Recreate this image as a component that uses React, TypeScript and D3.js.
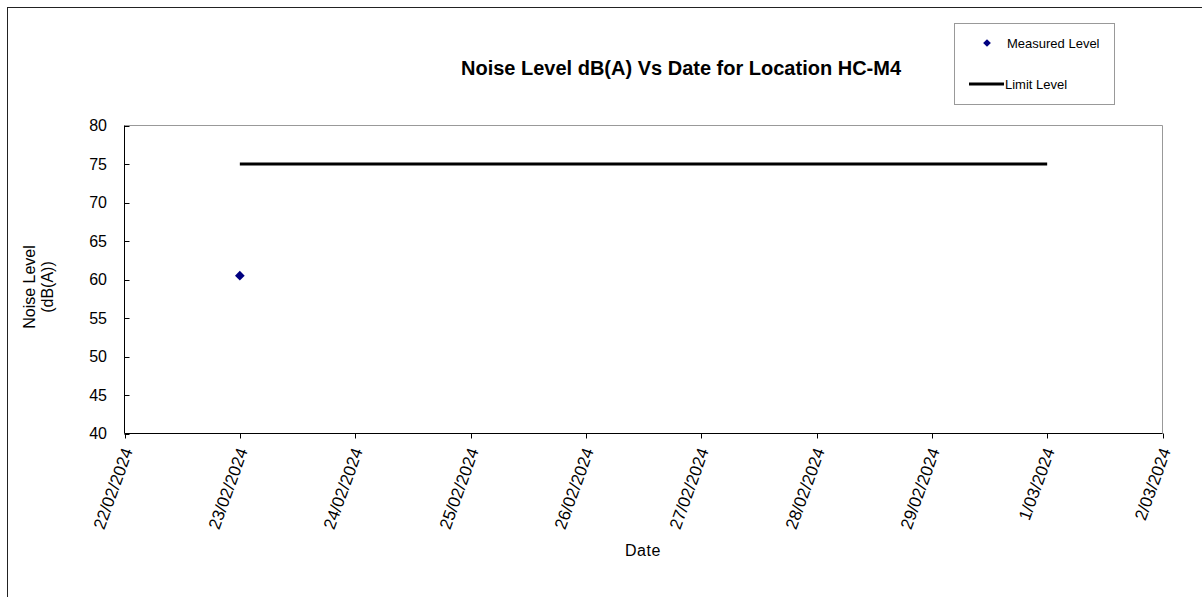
import React from 'react';
import * as d3 from 'd3';

// Values
const xTickDates = [
  '2024-02-22', '2024-02-23', '2024-02-24', '2024-02-25', '2024-02-26',
  '2024-02-27', '2024-02-28', '2024-02-29', '2024-03-01', '2024-03-02',
];
const yTicks = [40, 45, 50, 55, 60, 65, 70, 75, 80];
const measuredDates = ['2024-02-23'];
const measuredValues = [60.5];
const limitDates = ['2024-02-23', '2024-03-01'];
const limitValues = [75, 75];

const parse = d3.timeParse('%Y-%m-%d');
// day without leading zero, month with one: 22/02/2024, 1/03/2024
const fmt = d3.timeFormat('%-d/%m/%Y');

const FONT = '"Liberation Sans", Arial, sans-serif';

export default function App() {
  const margin = { left: 124.5, right: 1162.5, top: 125.5, bottom: 433.5 };

  const ticks = xTickDates.map(d => parse(d) as Date);
  const x = d3.scaleTime()
    .domain([ticks[0], ticks[ticks.length - 1]])
    .range([margin.left, margin.right]);
  const y = d3.scaleLinear().domain([40, 80]).range([margin.bottom, margin.top]);

  const measured = measuredDates.map((d, i) => ({ date: parse(d) as Date, value: measuredValues[i] }));
  const limit = limitDates.map((d, i) => ({ date: parse(d) as Date, value: limitValues[i] }));

  const line = d3.line<{ date: Date; value: number }>()
    .x(d => x(d.date))
    .y(d => y(d.value));

  const diamond = d3.symbol().type(d3.symbolDiamond2);

  return (
    <svg width={1202} height={597}
      style={{ position: 'absolute', left: 0, top: 0, display: 'block', background: '#fff' }}
      fontFamily={FONT}>
      {/* outer chart frame */}
      <rect x={7.5} y={7.5} width={1400} height={800} fill="none" stroke="#222" strokeWidth={1} />

      {/* title */}
      <text x={681} y={75} textAnchor="middle" fontSize={20} fontWeight="bold" fill="#000">
        Noise Level dB(A) Vs Date for Location HC-M4
      </text>

      {/* plot area border (top/right grey) */}
      <path d={`M${margin.left},${margin.top}H${margin.right}V${margin.bottom}`}
        fill="none" stroke="#999" strokeWidth={1} />

      {/* y axis */}
      <line x1={margin.left} x2={margin.left} y1={margin.top} y2={margin.bottom} stroke="#000" />
      {yTicks.map(t => (
        <g key={t}>
          <line x1={margin.left} x2={margin.left + 5} y1={Math.round(y(t)) + 0.5} y2={Math.round(y(t)) + 0.5} stroke="#000" />
          <text x={107} y={y(t)} dy="0.36em" textAnchor="end" fontSize={16} fill="#000">{t}</text>
        </g>
      ))}

      {/* x axis */}
      <line x1={margin.left} x2={margin.right} y1={margin.bottom} y2={margin.bottom} stroke="#000" />
      {ticks.map((t, i) => {
        const tx = Math.round(x(t)) + 0.5;
        return (
          <g key={i}>
            <line x1={tx} x2={tx} y1={margin.bottom} y2={margin.bottom + 5} stroke="#000" />
            <text transform={`translate(${tx + 2},${margin.bottom + 15}) rotate(-70)`}
              textAnchor="end" dy="0.35em" fontSize={17} fill="#000">{fmt(t)}</text>
          </g>
        );
      })}

      {/* axis titles */}
      <text x={643} y={556} textAnchor="middle" fontSize={16} letterSpacing={0.6} fill="#000">Date</text>
      <text transform="translate(0,287) rotate(-90)" textAnchor="middle" fontSize={16} fill="#000">
        <tspan x={0} y={34.5}>Noise Level</tspan>
        <tspan x={0} y={53}>(dB(A))</tspan>
      </text>

      {/* limit line */}
      <path d={line(limit) || ''} fill="none" stroke="#000" strokeWidth={3} />

      {/* measured points */}
      {measured.map((d, i) => (
        <path key={i} d={diamond.size(60)() || ''}
          transform={`translate(${x(d.date)},${y(d.value)})`} fill="#000080" />
      ))}

      {/* legend */}
      <rect x={954.5} y={23.5} width={160} height={81} fill="#fff" stroke="#999" />
      <path d={diamond.size(38)() || ''} transform="translate(987,43)" fill="#000080" />
      <text x={1007} y={43} dy="0.35em" fontSize={13} fill="#000">Measured Level</text>
      <line x1={969} x2={1004} y1={84} y2={84} stroke="#000" strokeWidth={3} />
      <text x={1005} y={84} dy="0.35em" fontSize={13} fill="#000">Limit Level</text>
    </svg>
  );
}
